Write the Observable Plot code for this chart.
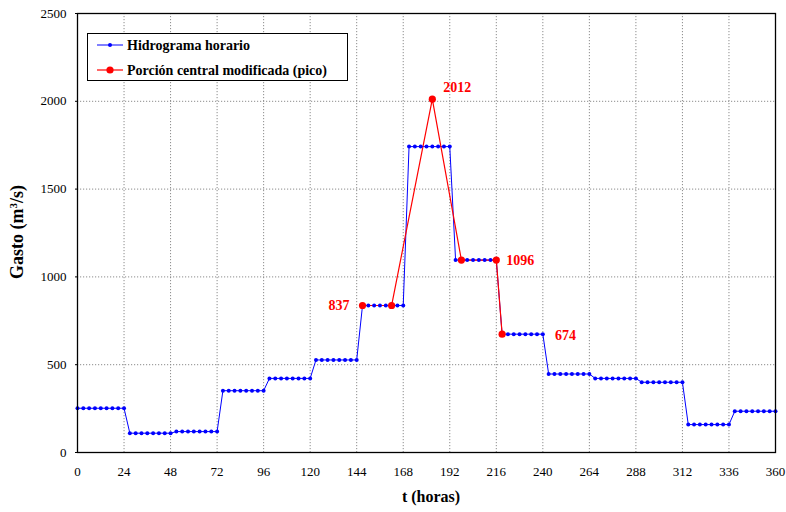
<!DOCTYPE html>
<html>
<head>
<meta charset="utf-8">
<script src="https://cdn.jsdelivr.net/npm/d3@7"></script>
<script src="https://cdn.jsdelivr.net/npm/@observablehq/plot@0.6"></script>
<style>
  html, body { margin: 0; padding: 0; background: #fff; }
  #chart { width: 786px; height: 512px; }
  #chart svg text { font-family: 'Liberation Serif', 'Times New Roman', serif; }
</style>
</head>
<body>
<div id="chart"></div>
<script>
// Daily flow levels of the hourly hydrograph (m3/s), one per 24 h day
const dayValues = [252, 110, 119, 352, 422, 527, 837, 1742, 1096, 674, 447, 422, 400, 159, 235];
// Modified central portion (peak)
const picoT = [147, 162, 183, 198, 216, 219];
const picoQ = [837, 837, 2012, 1096, 1096, 674];
// Annotated peak values
const labelT = [147, 183, 216, 219];
const labelQ = [837, 2012, 1096, 674];
const xTicks = [0, 24, 48, 72, 96, 120, 144, 168, 192, 216, 240, 264, 288, 312, 336, 360];
const yTicks = [0, 500, 1000, 1500, 2000, 2500];

// Hydrograph samples every 3 hours: day k value held from 24k+3 to 24(k+1)
const hidro = [];
for (let t = 0; t <= 360; t += 3) {
  const k = t === 0 ? 0 : Math.ceil(t / 24) - 1;
  hidro.push({t, q: dayValues[k]});
}
const pico = picoT.map((t, i) => ({t, q: picoQ[i]}));
const labels = labelT.map((t, i) => ({t, q: labelQ[i]}));

const font = "Liberation Serif";
const blue = "#0000ff", red = "#ff0000";

const chart = Plot.plot({
  width: 786,
  height: 512,
  marginLeft: 77,
  marginRight: 11,
  marginTop: 13,
  marginBottom: 60,
  style: {fontFamily: font, fontSize: "13px", color: "#000", background: "#fff"},
  x: {domain: [0, 360], ticks: xTicks, label: null, tickFormat: "d"},
  y: {domain: [0, 2500], ticks: yTicks, label: null, tickFormat: "d"},
  marks: [
    Plot.gridX(xTicks, {stroke: "#8c8c8c", strokeOpacity: 1, strokeDasharray: "1.2,1.8"}),
    Plot.gridY(yTicks, {stroke: "#8c8c8c", strokeOpacity: 1, strokeDasharray: "1.2,1.8"}),
    Plot.axisX(xTicks, {tickSize: 0, tickPadding: 14, fontSize: 13, fontFamily: font, tickFormat: "d"}),
    Plot.axisY(yTicks, {tickSize: 2, tickPadding: 9, fontSize: 13, fontFamily: font, tickFormat: "d"}),
    Plot.line(hidro, {x: "t", y: "q", stroke: blue, strokeWidth: 1}),
    Plot.line(pico, {x: "t", y: "q", stroke: red, strokeWidth: 1.2}),
    Plot.dot(hidro, {x: "t", y: "q", r: 2, fill: blue, stroke: null}),
    Plot.dot(pico, {x: "t", y: "q", r: 3.6, fill: red, stroke: null}),
    Plot.text(labels.filter(d => d.t === 147), {x: "t", y: "q", text: d => String(d.q), textAnchor: "end", dx: -13, dy: 0, fill: red, fontWeight: "bold", fontSize: 14, fontFamily: font}),
    Plot.text(labels.filter(d => d.t === 183), {x: "t", y: "q", text: d => String(d.q), textAnchor: "start", dx: 11, dy: -12, fill: red, fontWeight: "bold", fontSize: 14, fontFamily: font}),
    Plot.text(labels.filter(d => d.t === 216), {x: "t", y: "q", text: d => String(d.q), textAnchor: "start", dx: 10, dy: 0, fill: red, fontWeight: "bold", fontSize: 14, fontFamily: font}),
    Plot.text(labels.filter(d => d.t === 219), {x: "t", y: "q", text: d => String(d.q), textAnchor: "start", dx: 53, dy: 1, fill: red, fontWeight: "bold", fontSize: 14, fontFamily: font}),
    Plot.frame({stroke: "#000", strokeWidth: 1.3})
  ]
});

const svg = d3.select(chart);
// Axis titles
svg.append("text")
  .attr("x", 431).attr("y", 502)
  .attr("text-anchor", "middle")
  .attr("font-family", font).attr("font-weight", "bold").attr("font-size", 16)
  .attr("fill", "#000")
  .text("t (horas)");
const yl = svg.append("text")
  .attr("transform", "translate(23,232) rotate(-90)")
  .attr("text-anchor", "middle")
  .attr("font-family", font).attr("font-weight", "bold").attr("font-size", 18)
  .attr("fill", "#000");
yl.append("tspan").text("Gasto (m");
yl.append("tspan").attr("baseline-shift", "super").attr("font-size", 11).text("3");
yl.append("tspan").text("/s)");

// Legend
const lg = svg.append("g").attr("text-anchor", "start");
lg.append("rect").attr("x", 87.5).attr("y", 33.5).attr("width", 260).attr("height", 47)
  .attr("fill", "#fff").attr("stroke", "#000").attr("stroke-width", 1);
lg.append("line").attr("x1", 97).attr("x2", 123).attr("y1", 45).attr("y2", 45).attr("stroke", blue).attr("stroke-width", 1);
lg.append("circle").attr("cx", 110).attr("cy", 45).attr("r", 2).attr("fill", blue);
lg.append("text").attr("x", 127).attr("y", 50).attr("text-anchor", "start").attr("font-family", font).attr("font-weight", "bold").attr("font-size", 14).attr("fill", "#000").text("Hidrograma horario");
lg.append("line").attr("x1", 97).attr("x2", 123).attr("y1", 70).attr("y2", 70).attr("stroke", red).attr("stroke-width", 1.2);
lg.append("circle").attr("cx", 110).attr("cy", 70).attr("r", 3.6).attr("fill", red);
lg.append("text").attr("x", 127).attr("y", 75).attr("text-anchor", "start").attr("font-family", font).attr("font-weight", "bold").attr("font-size", 14).attr("fill", "#000").text("Porción central modificada (pico)");

document.getElementById("chart").appendChild(chart);
</script>
</body>
</html>
